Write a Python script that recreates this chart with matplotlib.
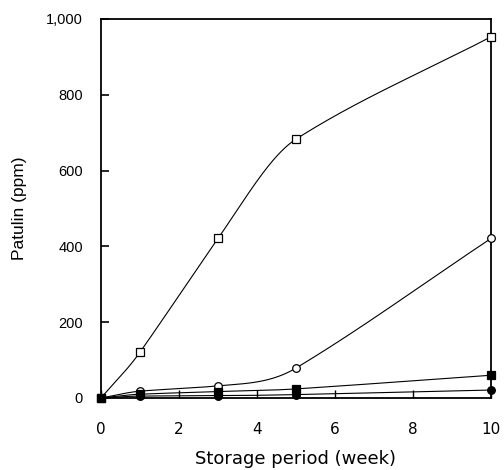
import matplotlib
matplotlib.use("Agg")
import matplotlib.pyplot as plt
import numpy as np
from matplotlib.ticker import FuncFormatter

weeks = [0, 1, 3, 5, 10]
open_square = [0, 121, 421, 683, 953]
open_circle = [0, 18, 32, 79, 421]
filled_square = [0, 10, 17, 24, 60]
filled_circle = [0, 5, 6, 9, 21]

x_ticks = [0, 2, 4, 6, 8, 10]
y_ticks = [0, 200, 400, 600, 800, 1000]


def smooth(x, y, n=300):
    # cubic hermite through the points, only for drawing the line;
    # tangent at a point mostly follows the longer neighbouring segment
    x = np.asarray(x, float)
    y = np.asarray(y, float)
    h = np.diff(x)
    d = np.diff(y) / h
    m = np.zeros_like(y)
    m[0] = d[0]
    m[-1] = d[-1]
    for k in range(1, len(x) - 1):
        if h[k] > h[k - 1]:
            m[k] = 0.85 * d[k] + 0.15 * d[k - 1]
        else:
            m[k] = 0.85 * d[k - 1] + 0.15 * d[k]
    xs = np.linspace(x[0], x[-1], n)
    idx = np.clip(np.searchsorted(x, xs) - 1, 0, len(h) - 1)
    t = (xs - x[idx]) / h[idx]
    h00 = 2 * t**3 - 3 * t**2 + 1
    h10 = t**3 - 2 * t**2 + t
    h01 = -2 * t**3 + 3 * t**2
    h11 = t**3 - t**2
    ys = (h00 * y[idx] + h10 * h[idx] * m[idx]
          + h01 * y[idx + 1] + h11 * h[idx] * m[idx + 1])
    return xs, ys


fig = plt.figure(figsize=(5.04, 4.70), dpi=100)
ax = fig.add_axes([0.2004, 0.1532, 0.7738, 0.8064])

series = [
    (open_square, "s", "white"),
    (open_circle, "o", "white"),
    (filled_square, "s", "black"),
    (filled_circle, "o", "black"),
]
for vals, mk, face in series:
    xs, ys = smooth(weeks, vals)
    ax.plot(xs, ys, color="black", lw=0.8, clip_on=False, zorder=2)
    ax.plot(weeks, vals, linestyle="none", marker=mk, ms=5.5,
            mfc=face, mec="black", mew=0.9, clip_on=False, zorder=3)

ax.set_xlim(0, 10)
ax.set_ylim(0, 1000)
ax.set_xticks(x_ticks)
ax.set_yticks(y_ticks)
ax.yaxis.set_major_formatter(FuncFormatter(lambda v, p: f"{int(v):,}"))

for s in ax.spines.values():
    s.set_linewidth(1.3)
ax.tick_params(axis="y", direction="in", length=6, width=1.2, pad=13,
               labelsize=10.5)
ax.tick_params(axis="x", direction="in", length=6, width=1.0, pad=17,
               labelsize=11)
for lab in ax.get_yticklabels():
    lab.set_family("Liberation Sans")
for lab in ax.get_xticklabels():
    lab.set_family("DejaVu Sans")

ax.set_xlabel("Storage period (week)", fontsize=13, family="DejaVu Sans",
              labelpad=10)
ax.set_ylabel("Patulin (ppm)", fontsize=12.5, family="Liberation Sans",
              labelpad=14)

fig.savefig("out.png", dpi=100)
